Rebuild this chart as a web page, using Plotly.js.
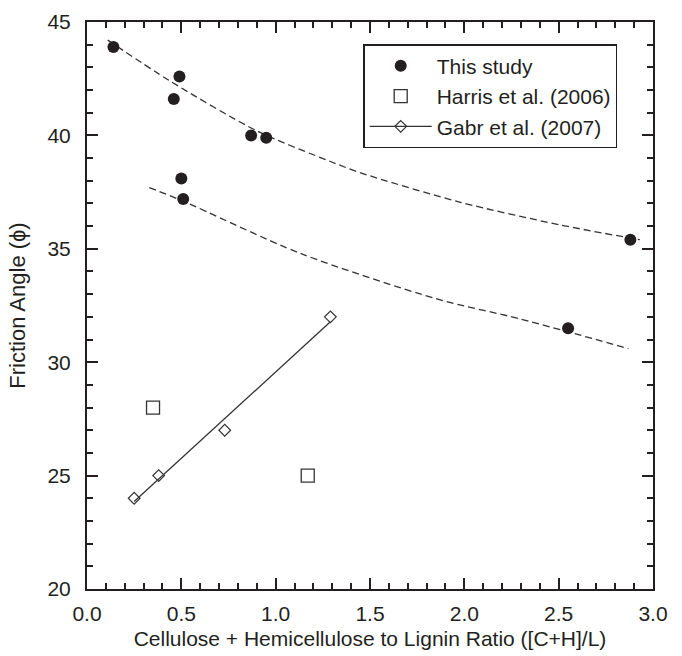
<!DOCTYPE html>
<html>
<head>
<meta charset="utf-8">
<script src="https://cdn.plot.ly/plotly-3.0.1.min.js"></script>
<style>
  html, body { margin: 0; padding: 0; background: #fff; }
  #chart { width: 682px; height: 656px; }
</style>
</head>
<body>
<div id="chart"></div>
<script>
// Friction angle measured in this study
const thisStudyX = [0.14, 0.49, 0.46, 0.87, 0.95, 0.50, 0.51, 2.88, 2.55];
const thisStudyY = [43.9, 42.6, 41.6, 40.0, 39.9, 38.1, 37.2, 35.4, 31.5];

// Harris et al. (2006)
const harrisX = [0.35, 1.17];
const harrisY = [28, 25];

// Gabr et al. (2007)
const gabrX = [0.25, 0.38, 0.73, 1.29];
const gabrY = [24, 25, 27, 32];

// Dashed trend curves through the two groups of this study
const upperTrendX = [0.11, 0.44, 0.90, 1.29, 1.45, 1.98, 2.51, 2.93];
const upperTrendY = [44.2, 42.4, 40.2, 38.85, 38.35, 37.05, 36.05, 35.4];
const lowerTrendX = [0.33, 0.51, 1.13, 1.85, 2.30, 2.87];
const lowerTrendY = [37.7, 37.1, 34.8, 32.8, 31.9, 30.6];

// Axis ticks
const xTickVals = [0, 0.5, 1.0, 1.5, 2.0, 2.5, 3.0];
const yTickVals = [20, 25, 30, 35, 40, 45];

const ink = '#231f20';
const fontFamily = '"Liberation Sans", Arial, Helvetica, sans-serif';

// Least-squares line through the Gabr et al. points
function linearFit(xs, ys) {
  const n = xs.length;
  const mx = xs.reduce((a, b) => a + b, 0) / n;
  const my = ys.reduce((a, b) => a + b, 0) / n;
  let sxy = 0, sxx = 0;
  for (let i = 0; i < n; i++) {
    sxy += (xs[i] - mx) * (ys[i] - my);
    sxx += (xs[i] - mx) * (xs[i] - mx);
  }
  const slope = sxy / sxx;
  return { slope: slope, intercept: my - slope * mx };
}
const gabrFit = linearFit(gabrX, gabrY);
const gabrLineX = [Math.min(...gabrX), Math.max(...gabrX)];
const gabrLineY = gabrLineX.map(x => gabrFit.intercept + gabrFit.slope * x);

const dashLine = { color: '#333', width: 1.3, dash: '7px,4px', shape: 'spline', smoothing: 0.8 };

const traces = [
  { x: upperTrendX, y: upperTrendY, mode: 'lines', line: dashLine, showlegend: false, hoverinfo: 'skip' },
  { x: lowerTrendX, y: lowerTrendY, mode: 'lines', line: dashLine, showlegend: false, hoverinfo: 'skip' },
  { x: gabrLineX, y: gabrLineY, mode: 'lines', line: { color: '#333', width: 1.3 }, showlegend: false, hoverinfo: 'skip' },
  {
    x: thisStudyX, y: thisStudyY, mode: 'markers', name: 'This study',
    marker: { symbol: 'circle', size: 12, color: ink, line: { width: 0 } }
  },
  {
    x: harrisX, y: harrisY, mode: 'markers', name: 'Harris et al. (2006)',
    marker: { symbol: 'square-open', size: 13, color: '#333', line: { width: 1.3 } }
  },
  {
    x: gabrX, y: gabrY, mode: 'markers', name: 'Gabr et al. (2007)', showlegend: false,
    marker: { symbol: 'diamond-open', size: 9, color: '#333', line: { width: 1.2 } }
  },
  // Legend entry for the Gabr series: line with diamond
  {
    x: [null], y: [null], mode: 'lines+markers', name: 'Gabr et al. (2007)',
    line: { color: '#333', width: 1.3 },
    marker: { symbol: 'diamond-open', size: 9, color: '#333', line: { width: 1.2 } }
  }
];

const axisCommon = {
  showgrid: false,
  zeroline: false,
  showline: true,
  linecolor: ink,
  linewidth: 2,
  mirror: 'ticks',
  ticks: 'inside',
  ticklen: 11,
  tickwidth: 2,
  tickcolor: ink,
  tickfont: { family: fontFamily, size: 21, color: ink },
  fixedrange: true
};

const layout = {
  width: 682,
  height: 656,
  margin: { l: 87, r: 29, t: 22, b: 67 },
  paper_bgcolor: '#fff',
  plot_bgcolor: '#fff',
  font: { family: fontFamily, color: ink },
  showlegend: true,
  xaxis: Object.assign({}, axisCommon, {
    range: [0, 3],
    tickvals: xTickVals,
    tickformat: '.1f',
    ticklabelstandoff: 5,
    minor: { dtick: 0.1, ticks: 'inside', ticklen: 6, tickwidth: 2, tickcolor: ink, showgrid: false },
    title: { text: 'Cellulose + Hemicellulose to Lignin Ratio ([C+H]/L)', font: { family: fontFamily, size: 21, color: ink }, standoff: 7 }
  }),
  yaxis: Object.assign({}, axisCommon, {
    range: [20, 45],
    tickvals: yTickVals,
    ticklabelstandoff: 10,
    minor: { dtick: 1, ticks: 'inside', ticklen: 6, tickwidth: 2, tickcolor: ink, showgrid: false },
    title: { text: 'Friction Angle (ϕ)', font: { family: fontFamily, size: 22, color: ink }, standoff: 16 }
  }),
  legend: {
    x: 0.488, y: 0.961, xanchor: 'left', yanchor: 'top',
    bgcolor: '#fff',
    bordercolor: ink,
    borderwidth: 1.5,
    itemwidth: 62,
    font: { family: fontFamily, size: 21, color: ink },
    tracegroupgap: 0
  }
};

Plotly.newPlot('chart', traces, layout, { staticPlot: true, displayModeBar: false });
</script>
</body>
</html>
